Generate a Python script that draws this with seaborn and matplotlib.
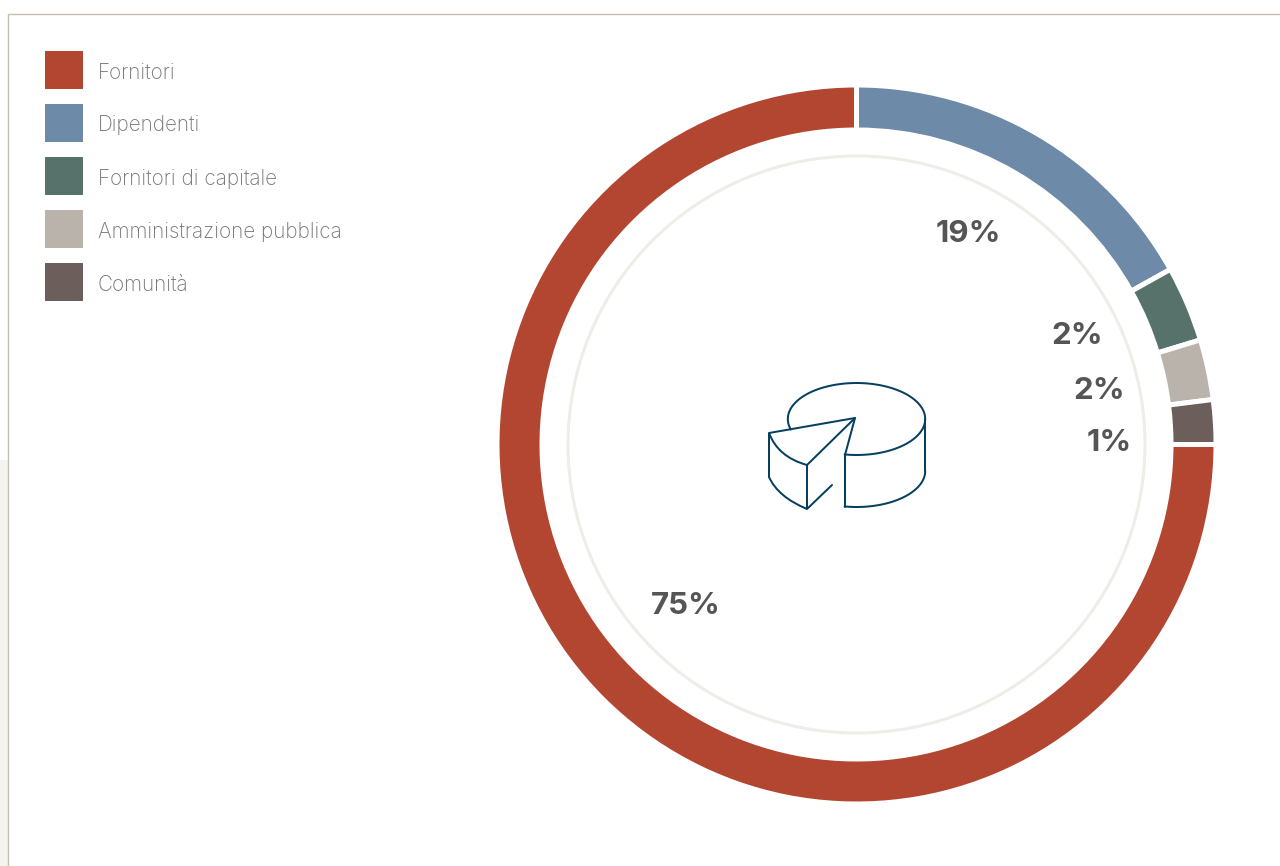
import numpy as np
import matplotlib
matplotlib.use("Agg")
import matplotlib.pyplot as plt
from matplotlib.patches import Patch, Circle, Rectangle, PathPatch
from matplotlib.path import Path
import seaborn as sns

categories = ["Fornitori", "Dipendenti", "Fornitori di capitale", "Amministrazione pubblica", "Comunità"]
arc_values = [75.0, 16.9, 3.4, 2.7, 2.0]
percent_labels = ["75%", "19%", "2%", "2%", "1%"]
colors = ["#b34631", "#6e8aa9", "#56726b", "#bab3ac", "#6c5f5b"]

sns.set_theme(style="white")
plt.rcParams["font.family"] = ["Inter", "DejaVu Sans"]
palette = sns.color_palette(colors)

W, H = 1280, 866
px = 72 / 100
fig = plt.figure(figsize=(W / 100, H / 100), dpi=100, facecolor="white")
ax = fig.add_axes([0, 0, 1, 1])

CX, CY, R, RI = 856.5, 444.5, 359.5, 314.5
ax.pie(arc_values, colors=palette, startangle=0, counterclock=True,
       center=(CX, CY), radius=R,
       wedgeprops=dict(width=R - RI, edgecolor="white", linewidth=5 * px))
ax.set_xlim(0, W)
ax.set_ylim(H, 0)
ax.set_aspect("equal")
ax.axis("off")

# panel frame and page strip
ax.add_patch(Rectangle((0, 460), 8, H - 460, fc="#f5f3f0", ec="none", zorder=0))
ax.plot([8, 8, W], [H, 14, 14], color="#c4bfb3", lw=1.4 * px, zorder=1,
        solid_joinstyle="miter")

# thin inner ring
ax.add_patch(Circle((CX, CY), 288.5, fc="none", ec="#eeede8", lw=3 * px))

# percent labels
label_pos = [(686, 606), (968, 234), (1077, 336), (1099, 391), (1109, 443)]
for (x, y), t in zip(label_pos, percent_labels):
    ax.text(x, y, t, ha="center", va="center", fontsize=22.5, fontweight="bold", color="#555555")

# legend
fs = 14.9
fs_px = fs / px
hh = (38 / fs_px - 0.245) / 0.65
handles = [Patch(facecolor=c, edgecolor="none", label=n) for c, n in zip(palette, categories)]
leg = ax.legend(handles=handles, loc="upper left",
                bbox_to_anchor=(45 / W, 1 - 51 / H), bbox_transform=fig.transFigure,
                frameon=False, borderpad=0, borderaxespad=0,
                handlelength=38 / fs_px, handleheight=hh,
                handletextpad=15 / fs_px, labelspacing=15.1 / fs_px,
                prop=dict(size=fs, family=["Inter", "DejaVu Sans"], weight="light"))
for t in leg.get_texts():
    t.set_color("#767676")
    t.set_y(-2)

# pie-chart icon
ic = "#07405f"
def stroke(xs, ys):
    ax.plot(xs, ys, color=ic, lw=2 * px, solid_capstyle="round", solid_joinstyle="round", zorder=5)

ex, ey, erx, ery = 856.5, 419, 68.7, 36
t = np.radians(np.linspace(197, -100, 160))
stroke(ex + erx * np.cos(t), ey - ery * np.sin(t))
t = np.radians(np.linspace(0, -100, 60))
stroke(ex + erx * np.cos(t), 471 - ery * np.sin(t))
stroke([925, 925], [419, 471])
stroke([845, 845, 855, 769, 769], [507, 455, 418, 433, 477])
stroke([855, 807, 807, 832], [418, 465, 509, 485])
for a, c, b in [((769, 433), (778, 457), (807, 465)), ((769, 477), (778, 497), (807, 509))]:
    ax.add_patch(PathPatch(Path([a, c, b], [Path.MOVETO, Path.CURVE3, Path.CURVE3]),
                           fc="none", ec=ic, lw=2 * px, zorder=5))

fig.savefig("out.png", dpi=100)
